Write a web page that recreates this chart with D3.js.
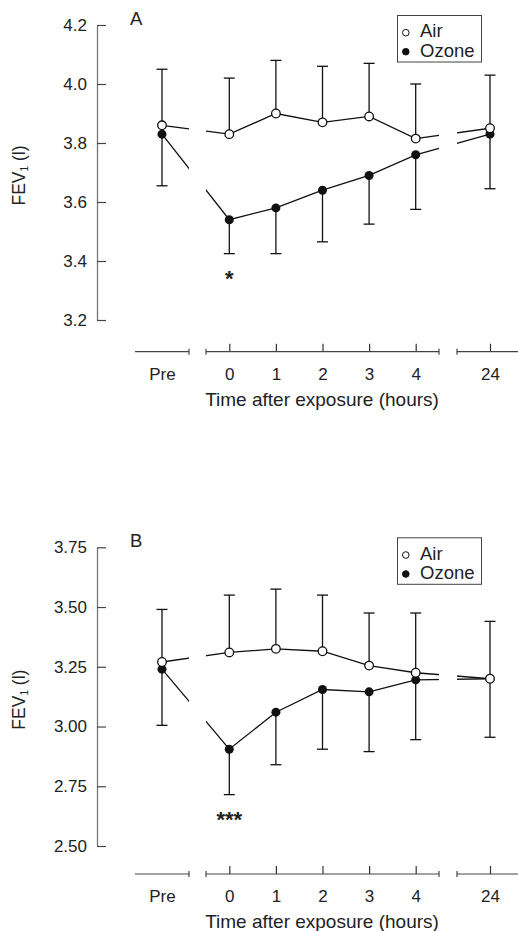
<!DOCTYPE html>
<html>
<head>
<meta charset="utf-8">
<script src="https://cdn.jsdelivr.net/npm/d3@7"></script>
<style>
body { margin: 0; background: #fff; }
svg text { font-family: "Liberation Sans", Arial, Helvetica, sans-serif; fill: #222; }
</style>
</head>
<body>
<div id="chart"></div>
<script>
// time points, split into the three pieces of the broken x axis
var times = ["Pre", "0", "1", "2", "3", "4", "24"];
var segPre = ["Pre"];
var segEarly = ["0", "1", "2", "3", "4"];
var segLate = ["24"];

// panel A
var airA = [3.86, 3.83, 3.90, 3.87, 3.89, 3.815, 3.85];
var airA_err = [0.19, 0.19, 0.18, 0.19, 0.18, 0.185, 0.18];
var ozoneA = [3.83, 3.54, 3.58, 3.64, 3.69, 3.76, 3.83];
var ozoneA_err = [0.175, 0.115, 0.155, 0.175, 0.165, 0.185, 0.185];
var starsA = ["", "*", "", "", "", "", ""];
var ticksA = [3.2, 3.4, 3.6, 3.8, 4.0, 4.2];

// panel B
var airB = [3.27, 3.31, 3.325, 3.315, 3.255, 3.225, 3.20];
var airB_err = [0.22, 0.24, 0.25, 0.235, 0.22, 0.25, 0.24];
var ozoneB = [3.24, 2.905, 3.06, 3.155, 3.145, 3.195, 3.20];
var ozoneB_err = [0.235, 0.19, 0.22, 0.25, 0.25, 0.25, 0.245];
var starsB = ["", "***", "", "", "", "", ""];
var ticksB = [2.5, 2.75, 3.0, 3.25, 3.5, 3.75];

var seriesNames = ["Air", "Ozone"];

var svg = d3.select("#chart").append("svg")
    .attr("width", 518)
    .attr("height", 931);

// one point scale for every piece of the axis
var xPre = d3.scalePoint().domain(segPre).range([135, 189]).padding(0.5);
var xEarly = d3.scalePoint().domain(segEarly).range([206, 439]).padding(0.5);
var xLate = d3.scalePoint().domain(segLate).range([457, 523]).padding(0.5);
var xScales = [xPre, xEarly, xLate];

function x(t) {
    for (var i = 0; i < xScales.length; i++) {
        if (xScales[i].domain().indexOf(t) >= 0) return xScales[i](t);
    }
}

// lines are cut where the axis is broken
var clip = svg.append("defs").append("clipPath").attr("id", "segclip");
xScales.forEach(function (s) {
    var r = s.range();
    clip.append("rect").attr("x", r[0]).attr("y", 0)
        .attr("width", r[1] - r[0]).attr("height", 931);
});

function drawPanel(p) {
    var g = svg.append("g");

    var y = d3.scaleLinear().domain(p.domain).range([p.bottom, p.top]);

    // y axis, ticks pointing in
    var yAxis = g.append("g")
        .attr("transform", "translate(97,0)")
        .call(d3.axisLeft(y).tickValues(p.ticks).tickFormat(d3.format(p.fmt))
            .tickSizeInner(-9).tickSizeOuter(0).tickPadding(10));
    yAxis.select(".domain").attr("stroke", "#777").attr("stroke-width", 1.3);
    yAxis.selectAll(".tick line").attr("stroke", "#444").attr("stroke-width", 1.2);
    yAxis.selectAll("text").attr("font-size", 17).attr("fill", "#222");

    // broken x axis
    xScales.forEach(function (s, i) {
        var ax = g.append("g")
            .attr("transform", "translate(0," + p.xAxisY + ")")
            .call(d3.axisBottom(s).tickSizeInner(i == 0 ? 0 : -8)
                .tickSizeOuter(0).tickPadding(16));
        ax.select(".domain").remove();
        ax.selectAll(".tick line").attr("stroke", "#333").attr("stroke-width", 1.2);
        ax.selectAll("text").attr("font-size", 17).attr("fill", "#222");
        var r = s.range();
        ax.append("line").attr("x1", r[0]).attr("x2", r[1])
            .attr("stroke", "#444").attr("stroke-width", 1.2);
        var ends = i == 0 ? [r[1]] : r;
        ends.forEach(function (e) {
            ax.append("line").attr("x1", e).attr("x2", e).attr("y1", -3).attr("y2", 3)
                .attr("stroke", "#444").attr("stroke-width", 1.2);
        });
    });

    g.append("text")
        .attr("x", 322).attr("y", p.xAxisY + 54)
        .attr("text-anchor", "middle").attr("font-size", 19)
        .text("Time after exposure (hours)");

    var yl = g.append("text")
        .attr("transform", "translate(25," + ((p.top + p.bottom) / 2 + 3) + ") rotate(-90)")
        .attr("text-anchor", "middle").attr("font-size", 17.5);
    yl.append("tspan").text("FEV");
    yl.append("tspan").attr("font-size", 10).attr("dy", 3).text("1");
    yl.append("tspan").attr("dy", -3).text(" (l)");

    g.append("text").attr("x", 130).attr("y", p.top).attr("font-size", 18.5).text(p.letter);

    var air = times.map(function (t, i) { return { t: t, v: p.air[i], e: p.airErr[i] }; });
    var oz = times.map(function (t, i) { return { t: t, v: p.ozone[i], e: p.ozoneErr[i], s: p.stars[i] }; });

    var line = d3.line()
        .x(function (d) { return x(d.t); })
        .y(function (d) { return y(d.v); });

    [air, oz].forEach(function (d) {
        g.append("path").datum(d)
            .attr("d", line)
            .attr("fill", "none")
            .attr("stroke", "#111")
            .attr("stroke-width", 1.3)
            .attr("clip-path", "url(#segclip)");
    });

    // error bars: air goes up, ozone goes down
    function errBars(data, dir) {
        var eb = g.append("g").selectAll("g").data(data).enter().append("g")
            .attr("stroke", "#111").attr("stroke-width", 1.3);
        eb.append("line")
            .attr("x1", function (d) { return x(d.t); })
            .attr("x2", function (d) { return x(d.t); })
            .attr("y1", function (d) { return y(d.v); })
            .attr("y2", function (d) { return y(d.v + dir * d.e); });
        eb.append("line")
            .attr("x1", function (d) { return x(d.t) - 5.5; })
            .attr("x2", function (d) { return x(d.t) + 5.5; })
            .attr("y1", function (d) { return y(d.v + dir * d.e); })
            .attr("y2", function (d) { return y(d.v + dir * d.e); });
    }
    errBars(air, 1);
    errBars(oz, -1);

    g.append("g").selectAll("circle").data(oz).enter().append("circle")
        .attr("cx", function (d) { return x(d.t); })
        .attr("cy", function (d) { return y(d.v); })
        .attr("r", 4.5).attr("fill", "#111");

    g.append("g").selectAll("circle").data(air).enter().append("circle")
        .attr("cx", function (d) { return x(d.t); })
        .attr("cy", function (d) { return y(d.v); })
        .attr("r", 4.3).attr("fill", "#fff").attr("stroke", "#111").attr("stroke-width", 1.3);

    g.append("g").selectAll("text").data(oz.filter(function (d) { return d.s; })).enter().append("text")
        .attr("x", function (d) { return x(d.t); })
        .attr("y", function (d) { return y(d.v - d.e) + 32; })
        .attr("text-anchor", "middle")
        .attr("font-size", 22).attr("font-weight", "bold").attr("fill", "#111")
        .text(function (d) { return d.s; });

    // legend
    var lg = g.append("g").attr("transform", "translate(397.5," + (p.top - 9.5) + ")");
    lg.append("rect").attr("width", 84).attr("height", 46.5)
        .attr("fill", "#fff").attr("stroke", "#444").attr("stroke-width", 1);
    seriesNames.forEach(function (n, i) {
        lg.append("circle").attr("cx", 8.3).attr("cy", 17.2 + i * 19).attr("r", 3.3)
            .attr("fill", i == 0 ? "#fff" : "#111").attr("stroke", "#111").attr("stroke-width", 1);
        lg.append("text").attr("x", 22.5).attr("y", 21.8 + i * 19.3)
            .attr("font-size", 18.5).text(n);
    });
}

drawPanel({
    letter: "A", top: 25, bottom: 320, xAxisY: 351.7,
    domain: [3.2, 4.2], ticks: ticksA, fmt: ".1f",
    air: airA, airErr: airA_err, ozone: ozoneA, ozoneErr: ozoneA_err, stars: starsA
});

drawPanel({
    letter: "B", top: 547.3, bottom: 846, xAxisY: 874,
    domain: [2.5, 3.75], ticks: ticksB, fmt: ".2f",
    air: airB, airErr: airB_err, ozone: ozoneB, ozoneErr: ozoneB_err, stars: starsB
});
</script>
</body>
</html>
